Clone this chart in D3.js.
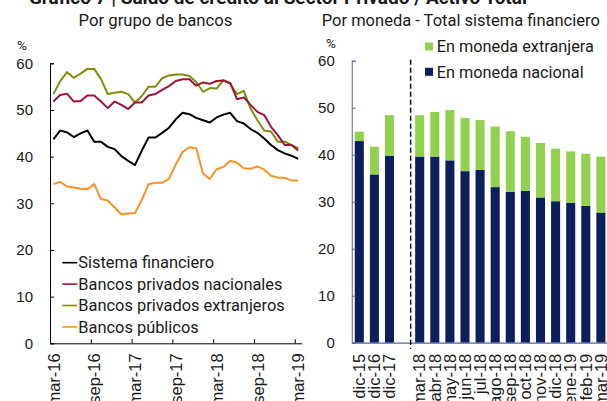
<!DOCTYPE html>
<html>
<head>
<meta charset="utf-8">
<script src="https://cdn.jsdelivr.net/npm/d3@7"></script>
<style>
  html, body { margin: 0; padding: 0; background: #fff; }
  svg { display: block; font-family: Roboto, 'Noto Sans', sans-serif; }
  .axis text { font-size: 15px; fill: #1a1a1a; }
  .axis .xlab { font-size: 16.5px; }
</style>
</head>
<body>
<svg width="607" height="401"></svg>
<script>
const MONTHS = [
  'mar-16', 'abr-16', 'may-16', 'jun-16', 'jul-16', 'ago-16', 'sep-16', 'oct-16', 'nov-16', 'dic-16',
  'ene-17', 'feb-17', 'mar-17', 'abr-17', 'may-17', 'jun-17', 'jul-17', 'ago-17', 'sep-17', 'oct-17',
  'nov-17', 'dic-17', 'ene-18', 'feb-18', 'mar-18', 'abr-18', 'may-18', 'jun-18', 'jul-18', 'ago-18',
  'sep-18', 'oct-18', 'nov-18', 'dic-18', 'ene-19', 'feb-19', 'mar-19'
]
const SISTEMA = [43.7, 45.6, 45.2, 44.2, 45.0, 45.6, 43.2, 43.2, 42.1, 41.6, 40.1, 39.1, 38.2, 41.3, 44.1, 44.1, 45.1, 46.2, 48.0, 49.4, 49.1, 48.3, 47.8, 47.3, 48.4, 49.0, 49.4, 47.6, 47.1, 45.9, 45.1, 43.9, 42.5, 41.4, 40.7, 40.2, 39.5]
const NACIONALES = [51.8, 53.2, 53.5, 51.8, 51.9, 53.1, 53.1, 51.8, 50.4, 51.8, 51.1, 50.2, 51.6, 51.6, 53.1, 53.4, 54.3, 55.1, 56.2, 56.6, 56.6, 55.2, 55.9, 55.6, 56.2, 56.3, 55.8, 52.3, 52.7, 51.1, 49.6, 48.9, 46.4, 44.6, 42.5, 42.5, 41.3]
const EXTRANJEROS = [53.4, 56.2, 58.1, 56.9, 57.8, 58.8, 58.8, 56.6, 53.4, 53.7, 53.9, 53.4, 51.6, 53.0, 55.0, 55.0, 56.8, 57.4, 57.6, 57.6, 57.3, 56.0, 53.9, 54.7, 54.6, 56.4, 55.6, 53.4, 54.1, 50.3, 47.8, 45.6, 45.4, 43.2, 43.2, 42.5, 41.8]
const PUBLICOS = [34.1, 34.6, 33.6, 33.4, 33.1, 33.0, 34.1, 30.9, 30.6, 29.1, 27.6, 27.8, 27.9, 30.7, 34.1, 34.4, 34.4, 35.3, 38.3, 41.0, 42.0, 41.8, 36.4, 35.2, 37.3, 37.8, 39.1, 38.7, 37.5, 37.4, 37.9, 37.2, 35.9, 35.5, 35.5, 34.9, 34.9]

const BAR_LABELS = ['dic-15', 'dic-16', 'dic-17', '', 'mar-18', 'abr-18', 'may-18', 'jun-18', 'jul-18', 'ago-18', 'sep-18', 'oct-18', 'nov-18', 'dic-18', 'ene-19', 'feb-19', 'mar-19']
const MN = [42.9, 35.8, 39.8, null, 39.6, 39.6, 38.8, 36.5, 36.8, 33.1, 32.1, 32.3, 30.9, 30.1, 29.8, 29.1, 27.7]
const ME = [2.0, 5.9, 8.6, null, 8.8, 9.5, 10.7, 11.3, 10.6, 12.9, 12.9, 11.5, 11.6, 11.2, 10.9, 11.1, 11.9]

const Y_TICKS = [0, 10, 20, 30, 40, 50, 60]

const svg = d3.select('svg')

// title, cut off by the top edge in the original
svg.append('text')
  .attr('x', 527).attr('y', 4)
  .attr('text-anchor', 'end')
  .style('font-size', '19px').style('font-weight', 'bold').style('fill', '#1a1a1a')
  .text('Gráfico 7 | Saldo de crédito al Sector Privado / Activo Total')

// ---- left panel: lines by bank group
const left = { x0: 50, x1: 301.6, top: 63.3, bottom: 343.3 }
const x = d3.scaleLinear().domain([0, MONTHS.length]).range([left.x0, left.x1])
const y = d3.scaleLinear().domain([0, 60]).range([left.bottom, left.top])

svg.append('text')
  .attr('x', 155.5).attr('y', 26).attr('text-anchor', 'middle')
  .style('font-size', '16.7px').style('fill', '#1a1a1a')
  .text('Por grupo de bancos')

svg.append('text')
  .attr('x', 22).attr('y', 50).attr('text-anchor', 'middle')
  .style('font-size', '13.5px').style('fill', '#1a1a1a')
  .text('%')

const gyL = svg.append('g')
  .attr('class', 'axis')
  .attr('transform', `translate(${left.x0},0)`)
  .call(d3.axisLeft(y).tickValues(Y_TICKS).tickSize(-4).tickPadding(17))
gyL.select('.domain').attr('stroke', '#000')

// categories sit between ticks, labels centred on the category
const gxL = svg.append('g')
  .attr('class', 'axis')
  .attr('transform', `translate(0,${left.bottom})`)
  .call(d3.axisBottom(x)
    .tickValues([0, 6, 12, 18, 24, 30, 36])
    .tickFormat(i => MONTHS[i])
    .tickSize(-4)
    .tickSizeOuter(0))
gxL.selectAll('text')
  .attr('class', 'xlab')
  .attr('transform', 'rotate(-90)')
  .attr('x', -10).attr('y', x(0.5) - x(0)).attr('dy', '0.35em')
  .style('text-anchor', 'end')

const series = [
  { name: 'Sistema financiero', values: SISTEMA, color: '#000000' },
  { name: 'Bancos privados nacionales', values: NACIONALES, color: '#9c1632' },
  { name: 'Bancos privados extranjeros', values: EXTRANJEROS, color: '#828c0c' },
  { name: 'Bancos públicos', values: PUBLICOS, color: '#fb9224' }
]

const line = d3.line()
  .x((d, i) => x(i + 0.5))
  .y(d => y(d))

svg.append('g')
  .selectAll('path')
  .data(series.slice().reverse())
  .enter().append('path')
  .attr('d', d => line(d.values))
  .attr('fill', 'none')
  .attr('stroke', d => d.color)
  .attr('stroke-width', 2)
  .attr('stroke-linejoin', 'round')

const legendL = svg.append('g')
  .selectAll('g')
  .data(series)
  .enter().append('g')
  .attr('transform', (d, i) => `translate(62.3,${262.7 + i * 21.4})`)
legendL.append('line')
  .attr('x1', 0).attr('x2', 15)
  .attr('stroke', d => d.color).attr('stroke-width', 1.6)
legendL.append('text')
  .attr('x', 16).attr('dy', '0.35em')
  .style('font-size', '16.4px').style('fill', '#1a1a1a')
  .text(d => d.name)

// ---- right panel: stacked bars by currency
const right = { x0: 351.75, x1: 608.45, top: 60.7, bottom: 342.7 }
const xb = d3.scaleBand()
  .domain(BAR_LABELS.map((d, i) => i))
  .range([right.x0, right.x1])
  .paddingInner(0.4)
  .paddingOuter(0.2)
const yb = d3.scaleLinear().domain([0, 60]).range([right.bottom, right.top])
const AXIS_BLUE = '#51679b'

svg.append('text')
  .attr('x', 460.8).attr('y', 26).attr('text-anchor', 'middle')
  .style('font-size', '16.5px').style('fill', '#1a1a1a')
  .text('Por moneda - Total sistema financiero')

svg.append('text')
  .attr('x', 331).attr('y', 48).attr('text-anchor', 'middle')
  .style('font-size', '13.5px').style('fill', '#1a1a1a')
  .text('%')

const rows = BAR_LABELS.map((label, i) => ({ i, label, mn: MN[i], me: ME[i] }))
  .filter(d => d.mn !== null)
const stack = d3.stack().keys(['mn', 'me'])(rows)
const barColors = { mn: '#0b1f5b', me: '#92d050' }

svg.append('g')
  .selectAll('g')
  .data(stack)
  .enter().append('g')
  .attr('fill', d => barColors[d.key])
  .selectAll('rect')
  .data(d => d)
  .enter().append('rect')
  .attr('x', d => xb(d.data.i))
  .attr('width', xb.bandwidth())
  .attr('y', d => yb(d[1]))
  .attr('height', d => yb(d[0]) - yb(d[1]))

const gyR = svg.append('g')
  .attr('class', 'axis')
  .attr('transform', `translate(${right.x0},0)`)
  .call(d3.axisLeft(yb).tickValues(Y_TICKS).tickSize(-4).tickPadding(17))
gyR.selectAll('line, .domain').attr('stroke', AXIS_BLUE)

const gxR = svg.append('g')
  .attr('class', 'axis')
  .attr('transform', `translate(0,${right.bottom})`)
  .call(d3.axisBottom(xb).tickFormat(i => BAR_LABELS[i]).tickSize(0).tickSizeOuter(0))
gxR.select('.domain').attr('stroke', AXIS_BLUE).attr('stroke-width', 1.3)
gxR.selectAll('text')
  .attr('class', 'xlab')
  .attr('transform', 'rotate(-90)')
  .attr('x', -11).attr('y', 0).attr('dy', '0.35em')
  .style('text-anchor', 'end')

// separator between year-end and monthly bars
const gapIndex = BAR_LABELS.indexOf('')
const sepX = xb(gapIndex) + xb.step() * 0.7
svg.append('line')
  .attr('x1', sepX).attr('x2', sepX)
  .attr('y1', yb(60) - 1).attr('y2', right.bottom + 6)
  .attr('stroke', '#000').attr('stroke-width', 1.5)
  .attr('stroke-dasharray', '5,3')

const legendR = svg.append('g')
  .selectAll('g')
  .data([
    { label: 'En moneda extranjera', color: barColors.me },
    { label: 'En moneda nacional', color: barColors.mn }
  ])
  .enter().append('g')
  .attr('transform', (d, i) => `translate(425,${46.5 + i * 25.3})`)
legendR.append('rect')
  .attr('x', 0).attr('y', -4).attr('width', 8).attr('height', 8)
  .attr('fill', d => d.color)
legendR.append('text')
  .attr('x', 11.7).attr('dy', '0.35em')
  .style('font-size', '16.3px').style('fill', '#1a1a1a')
  .text(d => d.label)
</script>
</body>
</html>
